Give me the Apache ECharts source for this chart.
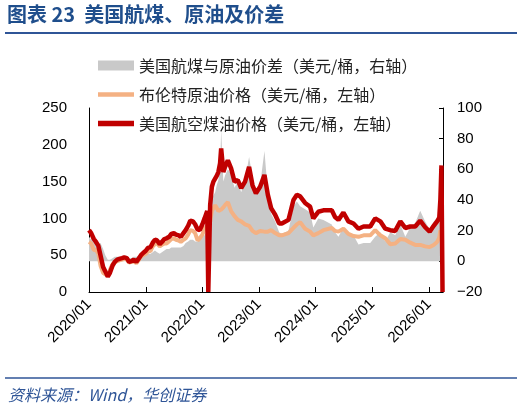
<!DOCTYPE html>
<html>
<head>
<meta charset="utf-8">
<script src="https://cdn.jsdelivr.net/npm/echarts@6/dist/echarts.min.js"></script>
<style>
html,body{margin:0;padding:0;background:#fff;}
#c{width:524px;height:413px;}
</style>
</head>
<body>
<div id="c"></div>
<script>
const dates = [
'2020-01-01','2020-01-15','2020-02-01','2020-02-15','2020-03-01','2020-03-15','2020-04-01','2020-04-15','2020-05-01','2020-05-15',
'2020-06-01','2020-06-15','2020-07-01','2020-07-15','2020-08-01','2020-08-15','2020-09-01','2020-09-15','2020-10-01','2020-10-15',
'2020-11-01','2020-11-15','2020-12-01','2020-12-15',
'2021-01-01','2021-01-15','2021-02-01','2021-02-15','2021-03-01','2021-03-15','2021-04-01','2021-04-15','2021-05-01','2021-05-15',
'2021-06-01','2021-06-15','2021-07-01','2021-07-15','2021-08-01','2021-08-15','2021-09-01','2021-09-15','2021-10-01','2021-10-15',
'2021-11-01','2021-11-15','2021-12-01','2021-12-15',
'2022-01-01','2022-01-15','2022-02-01','2022-02-08','2022-02-20','2022-03-03','2022-03-13','2022-03-24','2022-04-04','2022-04-14',
'2022-04-25','2022-05-02','2022-05-16','2022-05-27','2022-06-14','2022-07-05','2022-07-27','2022-08-17','2022-09-08','2022-10-03',
'2022-10-29','2022-11-20','2022-12-12',
'2023-01-08','2023-02-05','2023-02-27','2023-03-20','2023-04-15','2023-05-11','2023-05-28','2023-06-08','2023-07-10','2023-08-11',
'2023-09-02','2023-09-23','2023-10-25','2023-11-26','2023-12-17',
'2024-01-18','2024-02-20','2024-03-02','2024-04-14','2024-05-05','2024-05-27','2024-06-28','2024-07-30','2024-09-01','2024-10-03',
'2024-11-05','2024-12-18',
'2025-01-19','2025-02-21','2025-03-25','2025-04-26','2025-05-28','2025-06-30','2025-08-01','2025-09-02','2025-10-04','2025-11-05',
'2025-12-07',
'2026-01-05','2026-01-31','2026-02-22','2026-03-08','2026-03-15','2026-03-22','2026-03-29'
];
const jetFuel = [
84,80,72,68,63,50,34,28,21,26,
36,41,44,45,46,47,46,41,42,44,
41,45,50,53,
56,60,61,67,71,70,65,68,72,73,
75,79,80,78,77,75,80,84,90,97,
96,92,85,84,
92,100,110,0,118,143,150,154,158,163,
175,195,163,170,179,168,150,152,141,150,
170,145,134,
143,159,132,114,105,93,93,93,98,125,
132,130,121,116,100,
109,111,111,111,102,98,108,96,93,86,
89,89,
100,96,86,84,83,96,87,89,89,97,
88,
82,90,96,101,125,172,0
];
const brent = [
68,66,57,57,52,36,26,24,22,30,
38,40,42,43,44,45,44,40,41,42,
39,43,48,50,
52,55,56,62,65,66,62,64,66,66,
69,72,73,71,70,68,71,73,78,84,
83,80,70,73,
78,86,90,null,96,110,111,118,114,110,
111,112,115,118,122,110,103,98,96,92,
90,83,80,
83,82,82,84,80,77,77,77,80,87,
92,95,86,82,77,
80,84,84,87,83,82,86,79,76,75,
77,77,
84,77,73,65,66,72,71,67,64,64,
62,
61,64,68,74,84,null,null
];
const spread = [
16,14,15,11,11,12,8,4,1,1,
2,3,3,3,3,3,3,2,2,3,
3,3,3,4,
4,5,5,6,7,6,5,6,7,8,
8,9,9,9,9,9,10,12,13,14,
14,13,13,15,
16,17,20,null,22,40,43,45,50,53,
60,86,52,56,60,57,48,52,45,53,
68,55,46,
50,72,45,31,26,19,18,18,20,36,
39,36,34,32,22,
28,27,27,24,19,16,22,17,17,11,
12,12,
16,19,13,19,17,24,16,22,25,33,
26,
21,26,28,25,27,null,null
];
const leftTicks = {min: 0, max: 250, interval: 50};
const rightTicks = {min: -20, max: 100, interval: 20};
const names = {
  spread: '美国航煤与原油价差（美元/桶，右轴）',
  brent: '布伦特原油价格（美元/桶，左轴）',
  jet: '美国航空煤油价格（美元/桶，左轴）'
};
const titleText = '图表 23  美国航煤、原油及价差';
const sourceText = '资料来源：Wind，华创证券';

const pair = arr => dates.map((d, i) => [d, arr[i]]);
const numFont = 'Liberation Sans, Arial, sans-serif';
const cjkFont = '"Noto Sans CJK SC", sans-serif';

const chart = echarts.init(document.getElementById('c'), null, {renderer: 'canvas'});
chart.setOption({
  animation: false,
  backgroundColor: '#fff',
  graphic: [
    {type: 'text', left: 7, top: 4, style: {text: titleText, fill: '#1F4E8C', font: 'bold 20px ' + cjkFont}},
    {type: 'line', shape: {x1: 5, y1: 33, x2: 517, y2: 33}, style: {stroke: '#2F5597', lineWidth: 2}},
    {type: 'line', shape: {x1: 5, y1: 378, x2: 517, y2: 378}, style: {stroke: '#2F5597', lineWidth: 1.5}},
    {type: 'text', left: 8, top: 387, style: {text: sourceText, fill: '#2F5597', font: 'italic 16px ' + cjkFont}}
  ],
  legend: {
    orient: 'vertical',
    left: 93,
    top: 52,
    itemWidth: 36,
    itemHeight: 10,
    itemGap: 12,
    itemTextGap: 6,
    selectedMode: false,
    textStyle: {fontFamily: cjkFont, fontSize: 16, color: '#222', lineHeight: 17},
    itemStyle: {borderWidth: 0},
    data: [
      {name: names.spread, icon: 'rect', itemStyle: {color: '#C9C9C9', borderWidth: 0}},
      {name: names.brent, icon: 'path://M0,0H36V4.5H0Z', itemStyle: {color: '#F4B183', borderWidth: 0}},
      {name: names.jet, icon: 'path://M0,0H36V5.5H0Z', itemStyle: {color: '#C00000', borderWidth: 0}}
    ]
  },
  grid: {left: 89, right: 81, top: 108, bottom: 121, containLabel: false},
  xAxis: {
    type: 'time',
    min: '2020-01-01',
    max: '2026-04-01',
    minInterval: 365 * 86400000,
    maxInterval: 366 * 86400000,
    axisLine: {show: true, onZero: false, lineStyle: {color: '#000', width: 1}},
    axisTick: {show: true, inside: true, length: 5, lineStyle: {color: '#000'}},
    splitLine: {show: false},
    axisLabel: {
      rotate: 45,
      margin: 10,
      fontSize: 15,
      fontFamily: numFont,
      color: '#000',
      showMaxLabel: false,
      formatter: function (v) { return new Date(v).getFullYear() + '/01'; }
    }
  },
  yAxis: [
    {
      type: 'value',
      min: leftTicks.min, max: leftTicks.max, interval: leftTicks.interval,
      axisLine: {show: true, lineStyle: {color: '#000', width: 1}},
      axisTick: {show: false},
      splitLine: {show: false},
      axisLabel: {fontSize: 15, fontFamily: numFont, color: '#000', margin: 22}
    },
    {
      type: 'value',
      position: 'right',
      min: rightTicks.min, max: rightTicks.max, interval: rightTicks.interval,
      axisLine: {show: true, lineStyle: {color: '#000', width: 1}},
      axisTick: {show: true, inside: true, length: 4, lineStyle: {color: '#000'}},
      splitLine: {show: false},
      axisLabel: {fontSize: 15, fontFamily: numFont, color: '#000', margin: 14,
        formatter: function (v) { return String(v).replace('-', '\u2212'); }}
    }
  ],
  series: [
    {
      name: names.spread, type: 'line', yAxisIndex: 1, symbol: 'none', connectNulls: true,
      lineStyle: {width: 0, color: '#C9C9C9'},
      itemStyle: {color: '#C9C9C9'},
      areaStyle: {color: '#C9C9C9', opacity: 1},
      data: pair(spread), z: 1
    },
    {
      name: names.brent, type: 'line', yAxisIndex: 0, symbol: 'none', connectNulls: true,
      lineStyle: {width: 4, color: '#F4B183'},
      itemStyle: {color: '#F4B183'},
      data: pair(brent), z: 2
    },
    {
      name: names.jet, type: 'line', yAxisIndex: 0, symbol: 'none',
      lineStyle: {width: 4.5, color: '#C00000'},
      itemStyle: {color: '#C00000'},
      data: pair(jetFuel), z: 3
    }
  ]
});
</script>
</body>
</html>
